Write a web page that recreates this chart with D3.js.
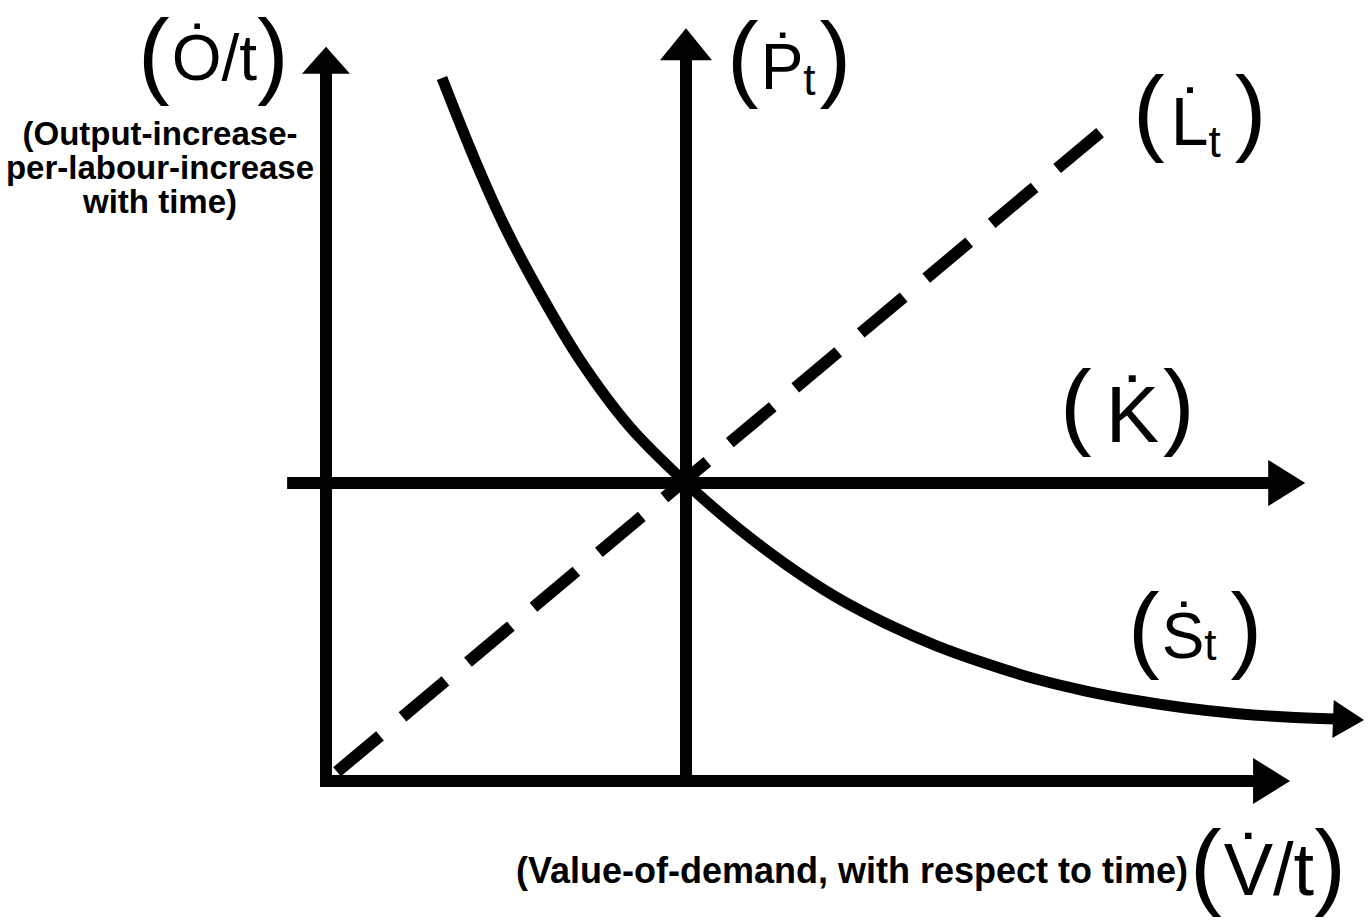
<!DOCTYPE html>
<html>
<head>
<meta charset="utf-8">
<script src="https://cdn.jsdelivr.net/npm/d3@7"></script>
<style>
  body { margin: 0; background: #fff; }
  svg text { font-family: "Liberation Sans", Arial, Helvetica, sans-serif; fill: #000; }
</style>
</head>
<body>
<svg id="chart"></svg>
<script>
// ---- data (units where the two middle axes cross at 5,5) ----
// supply curve S_t (last point = arrow tip)
const supplyX = [1.611, 2.069, 2.486, 2.972, 3.528, 4.222, 5.0, 5.694, 6.389, 7.083, 7.778, 8.472, 9.167, 9.861, 10.556, 11.25, 11.944, 12.639, 13.333, 14.028, 14.417];
const supplyY = [11.795, 10.419, 9.295, 8.188, 7.064, 5.94, 5.0, 4.27, 3.633, 3.087, 2.643, 2.273, 1.971, 1.711, 1.51, 1.351, 1.225, 1.133, 1.074, 1.04, 1.023];
// labour line L_t (dashed)
const labourX = [0, 10.79];
const labourY = [0, 10.92];
// axes
const crossX = 5;          // where the P_t axis stands
const crossY = 5;          // where the K axis lies
const xAxisEnd = 13.39;
const yAxisEnd = 12.32;
const pAxisEnd = 12.63;
const kAxisStart = -0.54;
const kAxisEnd = 13.6;
// labels
const symbolMain = ['Ȯ/t', 'Ṗ', 'L̇', 'K̇', 'Ṡ', 'V̇/t'];
const symbolSub  = ['', 't', 't', '', 't', ''];
const yTitle = ['(Output-increase-', 'per-labour-increase', 'with time)'];
const xTitle = '(Value-of-demand, with respect to time)';

window.addEventListener('DOMContentLoaded', () => {
    let width = 1369;
    let height = 920;
    let svg = d3.select('#chart').attr('width', width).attr('height', height);

    let xScale = d3.scaleLinear().domain([0, 5]).range([326, 686]);
    let yScale = d3.scaleLinear().domain([0, 5]).range([781, 483]);

    //arrow head: tip at (x2,y2), pointing away from (x1,y1)
    let arrowHead = (x1, y1, x2, y2, len, half) => {
        let a = Math.atan2(y2 - y1, x2 - x1);
        let bx = x2 - len * Math.cos(a), by = y2 - len * Math.sin(a);
        let px = -Math.sin(a) * half, py = Math.cos(a) * half;
        svg.append('path')
            .attr('d', `M${x2},${y2}L${bx + px},${by + py}L${bx - px},${by - py}Z`)
            .attr('fill', '#000');
    }

    //axis with arrow, shaft stops inside the head
    let axis = (x1, y1, x2, y2, len, half) => {
        let a = Math.atan2(y2 - y1, x2 - x1);
        svg.append('line')
            .attr('x1', x1).attr('y1', y1)
            .attr('x2', x2 - (len - 2) * Math.cos(a)).attr('y2', y2 - (len - 2) * Math.sin(a))
            .attr('stroke', '#000').attr('stroke-width', 12);
        arrowHead(x1, y1, x2, y2, len, half);
    }

    // left (O/t) axis and bottom (V/t) axis
    axis(xScale(0), yScale(0) + 6, xScale(0), yScale(yAxisEnd), 27, 24);
    axis(xScale(0) - 6, yScale(0), xScale(xAxisEnd), yScale(0), 37, 23);
    // P_t axis and K axis
    axis(xScale(crossX), yScale(0), xScale(crossX), yScale(pAxisEnd), 32, 26);
    axis(xScale(kAxisStart), yScale(crossY), xScale(kAxisEnd), yScale(crossY), 37, 23);

    // dashed L_t line
    svg.append('line')
        .attr('x1', xScale(labourX[0])).attr('y1', yScale(labourY[0]))
        .attr('x2', xScale(labourX[1])).attr('y2', yScale(labourY[1]))
        .attr('stroke', '#000')
        .attr('stroke-width', 12)
        .attr('stroke-dasharray', '56,29.4')
        .attr('stroke-dashoffset', 71);

    // S_t curve
    let pts = supplyX.map((d, i) => [xScale(d), yScale(supplyY[i])]);
    let n = pts.length;
    let line = d3.line().curve(d3.curveCatmullRom.alpha(0.5));
    svg.append('path')
        .attr('d', line(pts.slice(0, n - 1)))
        .attr('fill', 'none')
        .attr('stroke', '#000')
        .attr('stroke-width', 11);
    arrowHead(pts[n - 2][0], pts[n - 2][1], pts[n - 1][0], pts[n - 1][1], 31, 19);

    // symbol labels: letter baseline, paren baseline, subscript drop, gaps
    let labelPos = [
        {x: 138, y: 80, py: 86, fs: 64, sub: 0, gap: 2, gap2: 0},
        {x: 727, y: 89, py: 89, fs: 64, sub: 6, gap: 2, gap2: 4},
        {x: 1133, y: 145, py: 143, fs: 68, sub: 12, gap: 6, gap2: 14},
        {x: 1060, y: 442, py: 437, fs: 80, sub: 0, gap: 14, gap2: 4},
        {x: 1128, y: 658, py: 660, fs: 64, sub: 2, gap: 2, gap2: 14},
        {x: 1190, y: 895, py: 897, fs: 74, sub: 0, gap: 2, gap2: 0}
    ];
    symbolMain.forEach((s, i) => {
        let p = labelPos[i];
        let t = svg.append('text').attr('x', p.x).attr('y', p.py);
        t.append('tspan').attr('font-size', 95).attr('y', p.py).text('(');
        t.append('tspan').attr('font-size', p.fs).attr('y', p.y).attr('dx', p.gap).text(s);
        if (symbolSub[i]) {
            t.append('tspan').attr('font-size', 44).attr('y', p.y + p.sub).text(symbolSub[i]);
        }
        t.append('tspan').attr('font-size', 95).attr('y', p.py).attr('dx', p.gap2).text(')');
    });

    // y title
    svg.append('text')
        .attr('text-anchor', 'middle')
        .attr('font-weight', 'bold')
        .attr('font-size', 33)
        .selectAll('tspan')
        .data(yTitle)
        .enter()
        .append('tspan')
        .attr('x', 160)
        .attr('y', (d, i) => 145 + i * 34)
        .text(d => d);

    // x title
    svg.append('text')
        .attr('x', 516)
        .attr('y', 883)
        .attr('font-weight', 'bold')
        .attr('font-size', 36)
        .attr('textLength', 672)
        .attr('lengthAdjust', 'spacingAndGlyphs')
        .text(xTitle);
});
</script>
</body>
</html>
